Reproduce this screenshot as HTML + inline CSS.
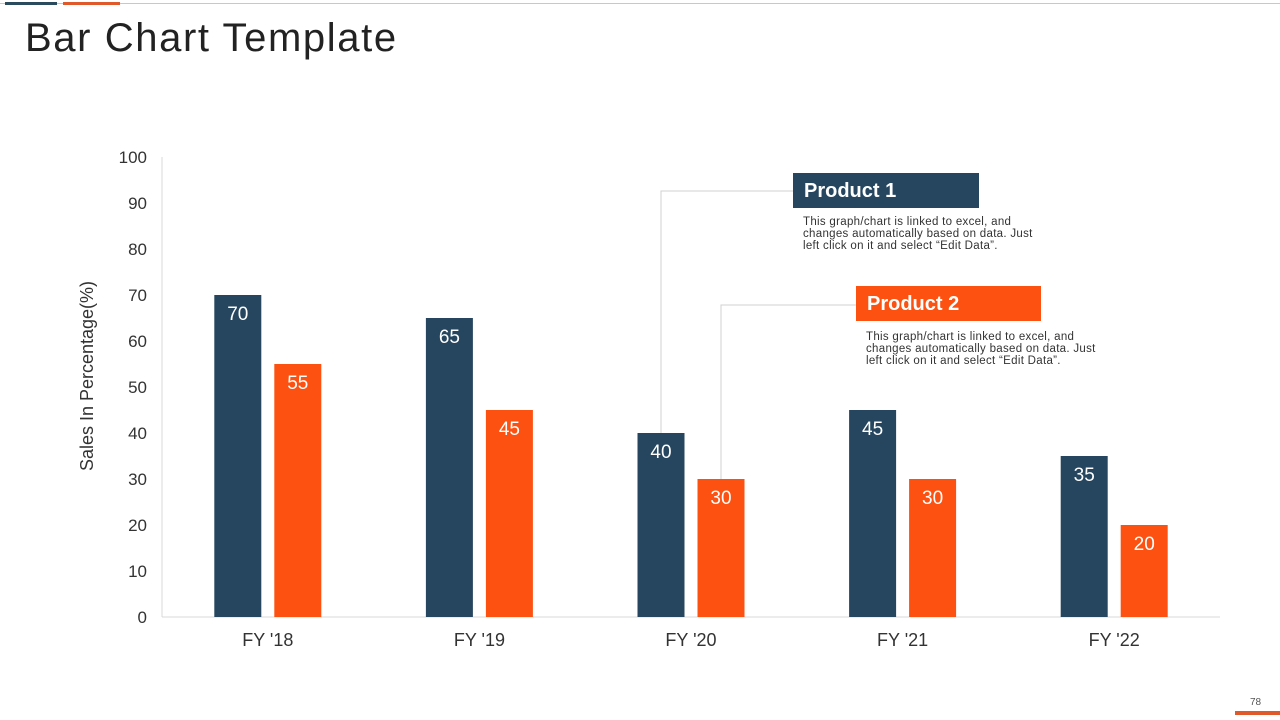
<!DOCTYPE html>
<html><head><meta charset="utf-8"><style>
body{margin:0;width:1280px;height:720px;background:#fff;overflow:hidden;font-family:"Liberation Sans",sans-serif;position:relative}
.abs{position:absolute}
</style></head><body>
<div class="abs" style="left:0;top:3px;width:1280px;height:1px;background:#c8c8c8"></div>
<div class="abs" style="left:5px;top:2px;width:52px;height:3px;background:#2a4a5e"></div>
<div class="abs" style="left:63px;top:2px;width:57px;height:3px;background:#e0592a"></div>
<div class="abs" style="left:25px;top:16px;font-size:40px;color:#222;letter-spacing:1.6px">Bar Chart Template</div>
<svg class="abs" style="left:0;top:0" width="1280" height="720" id="chart"></svg>
<div class="abs" style="left:1250px;top:697px;font-size:10px;color:#555">78</div>
<div class="abs" style="left:1235px;top:711px;width:45px;height:4px;background:#e0592a"></div>
<script>
const categories=["FY '18","FY '19","FY '20","FY '21","FY '22"];
const product1=[70,65,40,45,35];
const product2=[55,45,30,30,20];
const yTicks=[0,10,20,30,40,50,60,70,80,90,100];
const NS="http://www.w3.org/2000/svg";
const svg=document.getElementById('chart');
const x0=162,x1=1220,y0=617,y100=157;
const y=v=>y0-(y0-y100)*v/100;
const band=(x1-x0)/categories.length;
const cx=i=>x0+band*(i+0.5);
function el(t,a,txt){const e=document.createElementNS(NS,t);for(const k in a)e.setAttribute(k,a[k]);if(txt!==undefined)e.textContent=txt;svg.appendChild(e);return e;}
let e=el('line',{x1:x0,y1:y100,x2:x0,y2:y0,stroke:'#d9d9d9'});

e=el('line',{x1:x0,y1:y0,x2:x1,y2:y0,stroke:'#d9d9d9'});

yTicks.forEach(t=>{const l=el('text',{x:147,y:y(t)+6,'text-anchor':'end','font-size':17,fill:'#333','font-family':'Liberation Sans'},t);
});
e=el('text',{x:0,y:0,transform:'translate(93,376) rotate(-90)','text-anchor':'middle','font-size':18,fill:'#333','font-family':'Liberation Sans'},'Sales In Percentage(%)');

const bw=47,gap=13;
categories.forEach((c,i)=>{
 const bx=cx(i)-gap/2-bw;
 let r=el('rect',{x:bx,y:y(product1[i]),width:bw,height:y0-y(product1[i]),fill:'#26465f'});
 
 let t=el('text',{x:bx+bw/2,y:y(product1[i])+25,'text-anchor':'middle','font-size':19,fill:'#fff'},product1[i]);
 
 const ox=cx(i)+gap/2;
 r=el('rect',{x:ox,y:y(product2[i]),width:bw,height:y0-y(product2[i]),fill:'#fc5110'});
 
 t=el('text',{x:ox+bw/2,y:y(product2[i])+25,'text-anchor':'middle','font-size':19,fill:'#fff'},product2[i]);
 
 t=el('text',{x:cx(i),y:646,'text-anchor':'middle','font-size':18,fill:'#333'},c);
 
});
const b1x=cx(2)-gap/2-bw/2, b2x=cx(2)+gap/2+bw/2;
e=el('polyline',{points:`${b1x},${y(product1[2])} ${b1x},191 793,191`,fill:'none',stroke:'#d0d0d0'});

e=el('polyline',{points:`${b2x},${y(product2[2])} ${b2x},305 856,305`,fill:'none',stroke:'#d0d0d0'});

</script>
<div class="abs" style="left:793px;top:173px;width:186px;height:35px;background:#26465f;color:#fff;font-weight:bold;font-size:20px;line-height:37px;box-sizing:border-box;padding-left:11px">Product 1</div>
<div class="abs" style="left:803px;top:216px;width:250px;font-size:11.5px;line-height:12px;color:#333;letter-spacing:0.3px">This graph/chart is linked to excel, and<br>changes automatically based on data. Just<br>left click on it and select “Edit Data”.</div>
<div class="abs" style="left:856px;top:286px;width:185px;height:35px;background:#fc5110;color:#fff;font-weight:bold;font-size:20px;line-height:37px;box-sizing:border-box;padding-left:11px">Product 2</div>
<div class="abs" style="left:866px;top:331px;width:250px;font-size:11.5px;line-height:12px;color:#333;letter-spacing:0.3px">This graph/chart is linked to excel, and<br>changes automatically based on data. Just<br>left click on it and select “Edit Data”.</div>
</body></html>
